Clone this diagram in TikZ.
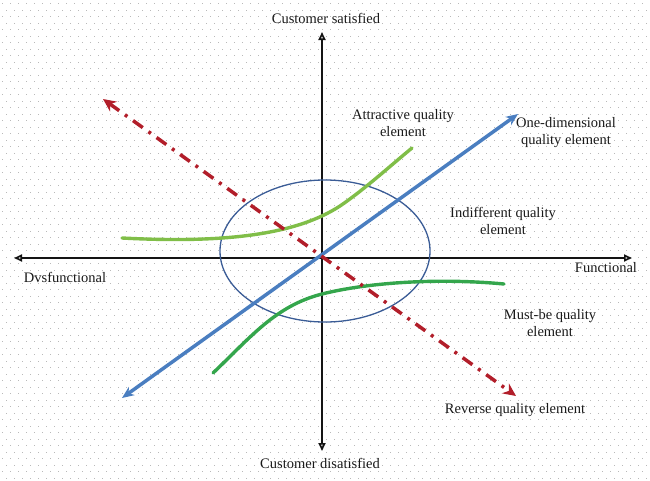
\documentclass[tikz,border=0pt]{standalone}
\usepackage{fontspec}
\setmainfont{Liberation Serif}
\usepackage{tikz}
\usetikzlibrary{arrows.meta}
\definecolor{axisK}{RGB}{20,20,20}
\definecolor{oneB}{RGB}{74,126,192}
\definecolor{attrG}{RGB}{128,190,72}
\definecolor{mustG}{RGB}{52,166,76}
\definecolor{revR}{RGB}{178,30,42}
\definecolor{ringB}{RGB}{58,92,150}
\definecolor{dotG}{RGB}{185,185,185}

\begin{document}
\begin{tikzpicture}[x=1pt, y=-1pt,
  font=\fontsize{14.5}{17}\selectfont,
  axis/.style={draw=axisK, line width=1.7pt, {Triangle[open, length=8pt, width=7pt]}-{Triangle[open, length=8pt, width=7pt]}},
  lbl/.style={align=center, inner sep=0pt, text=black!90},
  curveline/.style={line width=3.4pt, line cap=round}]
  \useasboundingbox (0,0) rectangle (650,480);
  % dotted paper background
  \foreach \r in {0,...,73} {
    \pgfmathsetmacro{\off}{mod(\r,2)*4}
    \foreach \c in {0,...,81}
      \fill[dotG] (\c*8+\off+2,\r*6.5+3) rectangle ++(1.2,1.2);
  }

  % axes
  \coordinate (O) at (322,258);
  \coordinate (top) at (322,32);
  \coordinate (bot) at (322,451);
  \coordinate (lft) at (14,258);
  \coordinate (rgt) at (632,258);
  \draw[axis] (bot) -- (top);
  \draw[axis] (lft) -- (rgt);

  % indifferent zone
  \draw[ringB, line width=1.3pt] (325,251) ellipse [x radius=105, y radius=71];

  % one-dimensional
  \coordinate (oneA) at (122,398);
  \coordinate (oneB) at (518,114);
  \draw[oneB, line width=3.5pt, {Stealth[length=12pt, width=10pt]}-{Stealth[length=12pt, width=10pt]}] (oneA) -- (oneB);

  % attractive
  \coordinate (attA) at (122,238);
  \coordinate (attB) at (412,148);
  \draw[attrG, curveline] (attA) .. controls (235,244) and (300,232) .. (340,206)
    .. controls (365,189) and (390,166) .. (attB);

  % must-be
  \coordinate (mustA) at (213,373);
  \coordinate (mustB) at (504,284);
  \draw[mustG, curveline] (mustA) .. controls (250,338) and (275,306) .. (322,294)
    .. controls (370,282) and (440,278) .. (mustB);

  % reverse
  \coordinate (revA) at (103,99);
  \coordinate (revB) at (516,396);
  \draw[revR, line width=3.5pt, dash pattern=on 12pt off 7pt on 3pt off 7pt,
    {Stealth[length=13pt, width=12pt]}-{Stealth[length=13pt, width=12pt]}] (revA) -- (revB);

  % labels
  \node[lbl] (sat) at (326,18) {Customer satisfied};
  \node[lbl] (dis) at (320,463) {Customer disatisfied};
  \node[lbl] (dys) at (65,277) {Dvsfunctional};
  \node[lbl] (fun) at (606,268) {Functional};
  \node[lbl] (att) at (403,123) {Attractive quality\\element};
  \node[lbl] (one) at (566,133) {One-dimensional\\quality element};
  \node[lbl] (ind) at (503,221) {Indifferent quality\\element};
  \node[lbl] (mus) at (550,323) {Must-be quality\\element};
  \node[lbl] (rev) at (515,410) {Reverse quality element};
\end{tikzpicture}
\end{document}
